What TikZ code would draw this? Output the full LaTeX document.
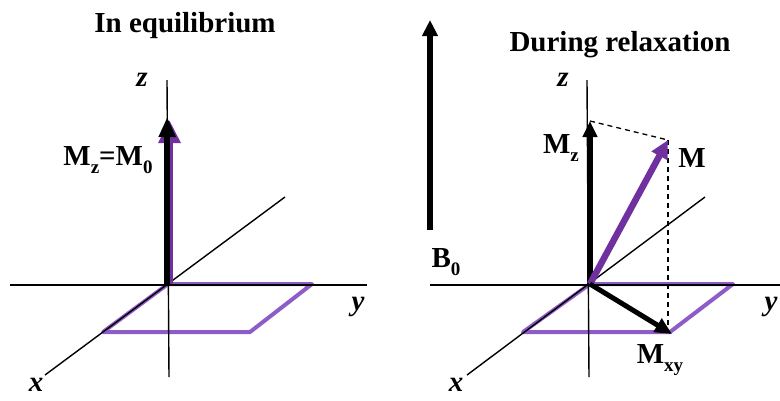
\documentclass[tikz,border=0pt]{standalone}
\usepackage{fontspec}
\setmainfont{Liberation Serif}
\usetikzlibrary{arrows.meta}
\definecolor{plane}{HTML}{8E5CC8}
\definecolor{mvec}{HTML}{7030A0}
\newcommand{\sbx}[1]{\raisebox{-0.3em}{\fontsize{19}{19}\selectfont #1}}
\begin{document}
\begin{tikzpicture}[x=1pt,y=-1pt,
  axis/.style={line width=1.4pt,black},
  planebox/.style={draw=plane,line width=4pt,line join=round},
  lbl/.style={font=\fontsize{29}{34}\selectfont\bfseries,inner sep=0pt},
  axlbl/.style={font=\fontsize{29}{34}\selectfont\bfseries\itshape,inner sep=0pt},
  vecblk/.style={line width=6pt,black},
  dashline/.style={line width=1.3pt,dash pattern=on 5pt off 4pt}]
\useasboundingbox (0,0) rectangle (780,400);
% ---------- left panel ----------
\coordinate (O1) at (168,284);
\coordinate (zt1) at (167,80);
\coordinate (zb1) at (169,377);
\coordinate (yl1) at (10,285);
\coordinate (yr1) at (367,285);
\coordinate (xb1) at (45,375);
\coordinate (xt1) at (285,197);
\coordinate (P1b) at (312,284);
\coordinate (P1c) at (250,332);
\coordinate (P1d) at (103,332);
\coordinate (Mt1) at (168,120);
\draw[planebox] (O1) -- (P1b) -- (P1c) -- (P1d) -- cycle;
\draw[axis] (zt1) -- (zb1);
\draw[axis] (yl1) -- (yr1);
\draw[axis] (xb1) -- (xt1);
\draw[line width=6pt,mvec,-{Triangle[length=23pt,width=21pt]}] ([xshift=1.5pt]O1) -- ([xshift=1.5pt]Mt1);
\draw[vecblk,-{Triangle[length=20pt,width=16pt]}] ([xshift=-0.8pt]O1) -- ([xshift=-0.8pt,yshift=3pt]Mt1);
\node[lbl] (t1) at (185,26) {In equilibrium};
\node[axlbl] (z1) at (142,80) {z};
\node[axlbl] (x1) at (36,385) {x};
\node[axlbl] (y1) at (358,307) {y};
\node[lbl] (mz0) at (108,160) {M\sbx{z}=M\sbx{0}};
% ---------- right panel ----------
\coordinate (B0b) at (430,230);
\coordinate (B0t) at (430,20);
\draw[vecblk,-{Triangle[length=16pt,width=15pt]}] (B0b) -- (B0t);
\node[lbl] (b0) at (446,262) {B\sbx{0}};
\coordinate (O2) at (590,284);
\coordinate (zt2) at (587,80);
\coordinate (zb2) at (589,377);
\coordinate (yl2) at (430,285);
\coordinate (yr2) at (782,285);
\coordinate (xb2) at (467,375);
\coordinate (xt2) at (705,197);
\coordinate (P2b) at (733,284);
\coordinate (P2c) at (670,332);
\coordinate (P2d) at (523,332);
\coordinate (Mz2) at (590,121);
\coordinate (M2) at (668,140);
\coordinate (Mxy) at (672,334);
\coordinate (Mxyb) at (668,332);
\draw[planebox] (O2) -- (P2b) -- (P2c) -- (P2d) -- cycle;
\draw[axis] (zt2) -- (zb2);
\draw[axis] (yl2) -- (yr2);
\draw[axis] (xb2) -- (xt2);
\draw[dashline] (Mz2) -- (M2);
\draw[dashline] (M2) -- (Mxyb);
\draw[vecblk,-{Triangle[length=16pt,width=14pt]}] (O2) -- (Mz2);
\draw[line width=6.5pt,mvec,-{Triangle[length=18pt,width=17pt]}] (O2) -- (M2);
\draw[line width=5pt,black,-{Triangle[length=17pt,width=15pt]}] (O2) -- (Mxy);
\node[lbl] (t2) at (620,45) {During relaxation};
\node[axlbl] (z2) at (563,80) {z};
\node[axlbl] (x2) at (456,385) {x};
\node[axlbl] (y2) at (771,307) {y};
\node[lbl] (mz) at (561,148) {M\sbx{z}};
\node[lbl] (m) at (692,158) {M};
\node[lbl] (mxy) at (660,360) {M\sbx{xy}};
\end{tikzpicture}
\end{document}
